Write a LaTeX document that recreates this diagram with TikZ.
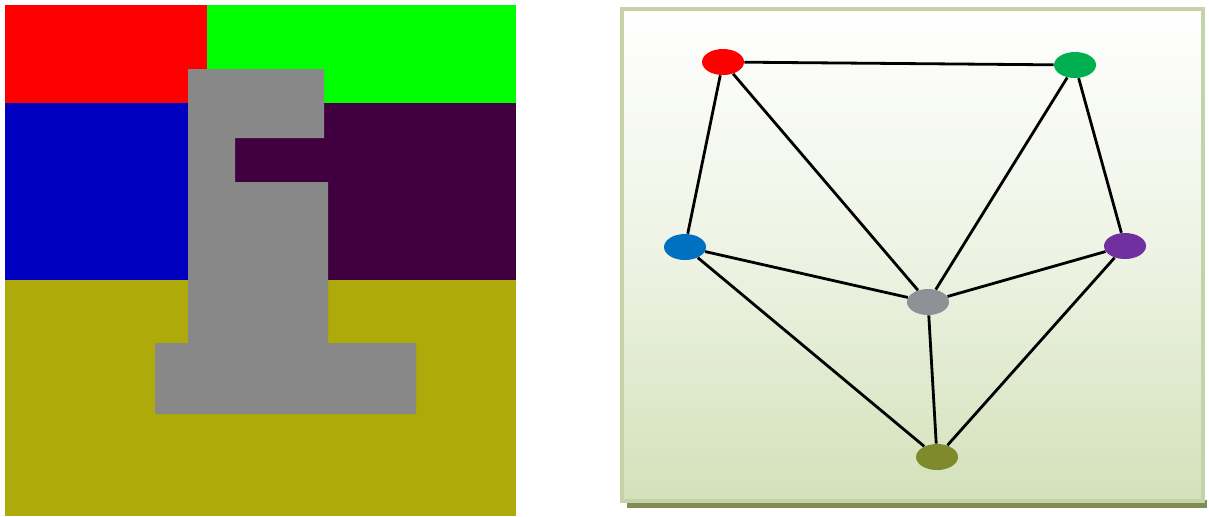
\documentclass[tikz,border=0pt]{standalone}
\usetikzlibrary{shapes.geometric}
\definecolor{regred}{HTML}{FF0000}
\definecolor{reggreen}{HTML}{00FF00}
\definecolor{regblue}{HTML}{0000C0}
\definecolor{regplum}{HTML}{40003F}
\definecolor{regolive}{HTML}{AEAA0A}
\definecolor{reggray}{HTML}{888888}
\definecolor{frameline}{HTML}{C6D2AA}
\definecolor{frameshadow}{HTML}{7E8C56}
\definecolor{panelbottom}{HTML}{D3E1BA}
\definecolor{vred}{HTML}{FF0000}
\definecolor{vgreen}{HTML}{00B050}
\definecolor{vblue}{HTML}{0070C0}
\definecolor{vpurple}{HTML}{7030A0}
\definecolor{vgray}{HTML}{8E9196}
\definecolor{volive}{HTML}{7F8A2A}
\tikzset{
  vertex/.style={ellipse,minimum width=21pt,minimum height=13pt,inner sep=0pt},
  adj/.style={line width=1.4pt,black}
}
\begin{document}
\begin{tikzpicture}[x=0.5pt,y=-0.5pt]
  \useasboundingbox (0,0) rectangle (1209,516);
  % region map
  \fill[regred] (5,5) rectangle (207,103);
  \fill[reggreen] (207,5) rectangle (516,103);
  \fill[regblue] (5,103) rectangle (188,280);
  \fill[regplum] (188,103) rectangle (516,280);
  \fill[regolive] (5,280) rectangle (516,516);
  \fill[reggray] (188,69) -- (324,69) -- (324,138) -- (235,138) -- (235,182)
    -- (328,182) -- (328,343) -- (416,343) -- (416,414) -- (155,414)
    -- (155,343) -- (188,343) -- cycle;
  % adjacency graph panel
  \fill[frameshadow] (627,500) rectangle (1207,508);
  \shade[top color=white,bottom color=panelbottom,middle color=white!60!panelbottom]
    (621,8) rectangle (1204,502);
  \draw[frameline,line width=2pt] (622,9) rectangle (1203,501);
  \node[vertex,fill=vred] (r) at (723,62) {};
  \node[vertex,fill=vgreen] (g) at (1075,65) {};
  \node[vertex,fill=vblue] (b) at (685,247) {};
  \node[vertex,fill=vpurple] (p) at (1125,246) {};
  \node[vertex,fill=vgray] (c) at (928,302) {};
  \node[vertex,fill=volive] (o) at (937,457) {};
  \draw[adj] (r) -- (g);
  \draw[adj] (r) -- (b);
  \draw[adj] (r) -- (c);
  \draw[adj] (g) -- (c);
  \draw[adj] (g) -- (p);
  \draw[adj] (b) -- (c);
  \draw[adj] (p) -- (c);
  \draw[adj] (b) -- (o);
  \draw[adj] (p) -- (o);
  \draw[adj] (c) -- (o);
\end{tikzpicture}
\end{document}
